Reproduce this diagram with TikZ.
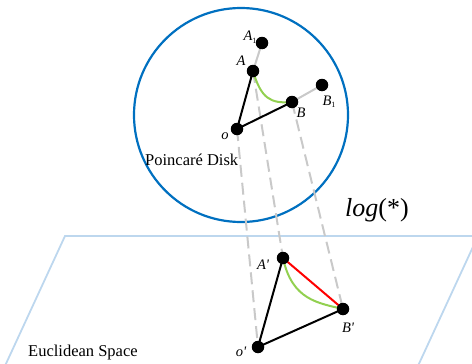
\documentclass[tikz,border=0pt]{standalone}
\usepackage{fontspec}
\setmainfont{Liberation Serif}
\begin{document}
\begin{tikzpicture}[x=1pt,y=-1pt,
  lbl/.style={font=\fontsize{14.5}{14.5}\selectfont\itshape,inner sep=0pt},
  txt/.style={font=\fontsize{16.5}{16.5}\selectfont,inner sep=0pt,anchor=west},
  blk/.style={line width=2pt,black},
  gry/.style={line width=2pt,gray!42},
  gdash/.style={line width=2pt,gray!42,dash pattern=on 12pt off 6pt},
]
\definecolor{diskblue}{RGB}{0,112,192}
\definecolor{planeblue}{RGB}{189,215,238}
\definecolor{offgreen}{RGB}{146,208,80}
\tikzset{dot/.style={circle,fill=black,inner sep=0pt,minimum size=12.5pt}}
\useasboundingbox (0,0) rectangle (472,364);
% plane
\draw[planeblue,line width=1.8pt] (-20,420) -- (65,236) -- (478,236) -- (393,420);
% disk
\node[draw=diskblue,line width=2.2pt,circle,minimum size=214pt,inner sep=0pt] (disk) at (241,115) {};
% points
\coordinate (A1) at (262,43);
\coordinate (A) at (253,71);
\coordinate (B) at (292,102);
\coordinate (B1) at (322,85);
\coordinate (o) at (237,129);
\coordinate (Ap) at (283,258);
\coordinate (Bp) at (343,309);
\coordinate (op) at (258,347);
% grey
\draw[gry] (A1) -- (A);
\draw[gry] (B) -- (B1);
\draw[gdash] (o) -- (op);
\draw[gdash] (A) -- (Ap);
\draw[gdash] (B) -- (Bp);
% black
\draw[blk] (o) -- (A);
\draw[blk] (o) -- (B);
\draw[blk] (op) -- (Ap);
\draw[blk] (op) -- (Bp);
% green and red
\draw[offgreen,line width=2pt] (A) .. controls (261,98) and (270,104) .. (B);
\draw[offgreen,line width=2pt] (Ap) .. controls (292,300) and (318,303) .. (Bp);
\draw[red,line width=2pt] (Ap) -- (Bp);
% dots
\foreach \p in {A1,A,B,B1,o,Ap,Bp,op} \node[dot] at (\p) {};
% labels
\node[lbl] (lA1) at (250,37) {A\raisebox{-2.5pt}{\upshape\fontsize{8}{8}\selectfont 1}};
\node[lbl] (lA) at (241,61) {A};
\node[lbl] (lB) at (301,113) {B};
\node[lbl] (lB1) at (329,102) {B\raisebox{-2.5pt}{\upshape\fontsize{8}{8}\selectfont 1}};
\node[lbl] (lo) at (225,136) {o};
\node[lbl] (lAp) at (263,265) {A\textquotesingle};
\node[lbl] (lBp) at (348,328) {B\textquotesingle};
\node[lbl] (lop) at (241,352) {o\textquotesingle};
\node[txt] (pd) at (145,160) {Poincaré Disk};
\node[txt] (es) at (28,353) {Euclidean Space};
\node[font=\fontsize{26}{26}\selectfont,inner sep=0pt] (log) at (377,210) {\textit{log}(*)};
\end{tikzpicture}
\end{document}
